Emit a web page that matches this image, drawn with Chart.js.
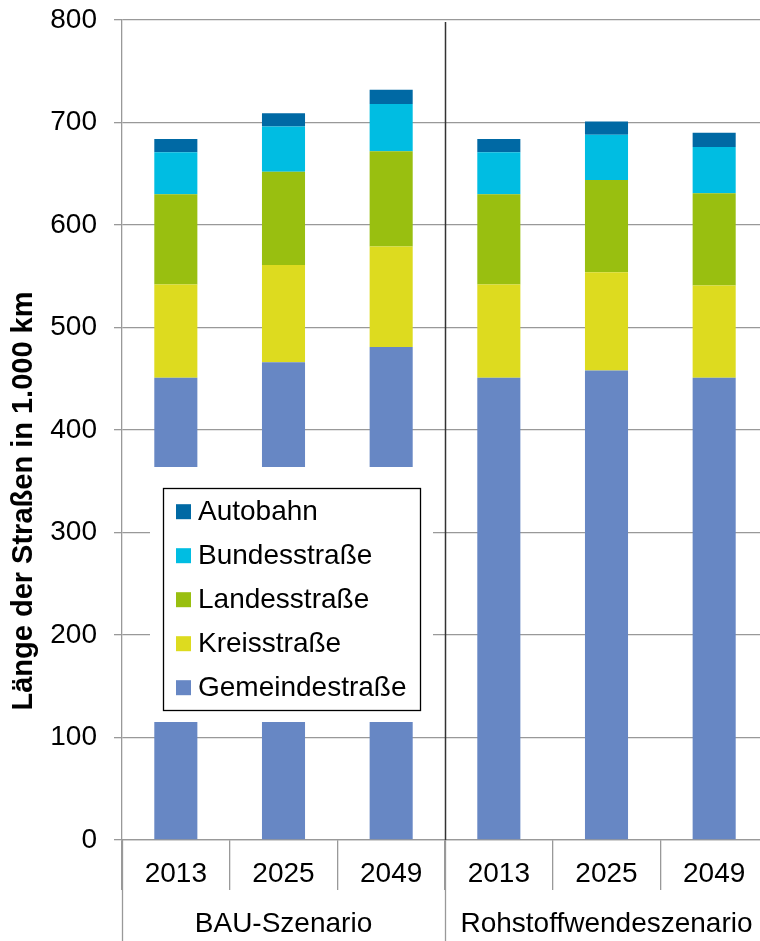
<!DOCTYPE html>
<html lang="de">
<head>
<meta charset="utf-8">
<title>Länge der Straßen in 1.000 km</title>
<script src="https://cdn.jsdelivr.net/npm/chart.js@4.4.1/dist/chart.umd.min.js"></script>
<style>
  html, body { margin: 0; padding: 0; overflow: hidden; background: #fff; }
  canvas { display: block; }
</style>
</head>
<body>
<canvas id="roads" width="768" height="941"></canvas>
<script>
// Road lengths in 1,000 km per scenario and year
const years = ['2013', '2025', '2049', '2013', '2025', '2049'];
const scenarios = ['BAU-Szenario', 'Rohstoffwendeszenario'];
const yearsPerScenario = 3;

const gemeindestrasse = [451, 466, 481, 451, 458, 451];
const kreisstrasse    = [91, 95, 98, 91, 96, 90];
const landesstrasse   = [88, 91, 93, 88, 90, 90];
const bundesstrasse   = [41, 44, 46, 41, 44, 45];
const autobahn        = [13, 13, 14, 13, 13, 14];

const yMin = 0;
const yMax = 800;
const yStep = 100;
const yTitle = 'Länge der Straßen in 1.000 km';

const FONT = "'Liberation Sans', Arial, sans-serif";
const GRID = '#999999';

Chart.defaults.font.family = FONT;
Chart.defaults.color = '#000';

const series = [
  { label: 'Gemeindestraße', data: gemeindestrasse, color: '#6787c4' },
  { label: 'Kreisstraße',    data: kreisstrasse,    color: '#dddb1f' },
  { label: 'Landesstraße',   data: landesstrasse,   color: '#99bf10' },
  { label: 'Bundesstraße',   data: bundesstrasse,   color: '#00bde2' },
  { label: 'Autobahn',       data: autobahn,        color: '#0069a4' }
];

// Legend sits inside the plot on a white panel (offsets from chart area)
const legendLayout = {
  panel:  { dx: 28, dy: 447, w: 283, h: 255 },
  frame:  { dx: 41, dy: 468, w: 257, h: 222 },
  swatch: 15,
  firstRow: 23.7,
  rowStep: 44,
  swatchX: 13,
  textX: 35
};

const legendPlugin = {
  id: 'insetLegend',
  afterDatasetsDraw(chart) {
    const { ctx, chartArea } = chart;
    const L = legendLayout;
    ctx.save();
    ctx.fillStyle = '#fff';
    ctx.fillRect(chartArea.left + L.panel.dx, chartArea.top + L.panel.dy, L.panel.w, L.panel.h);

    const fx = chartArea.left + L.frame.dx;
    const fy = chartArea.top + L.frame.dy;
    ctx.strokeStyle = '#000';
    ctx.lineWidth = 1.3;
    ctx.strokeRect(fx + 0.5, fy + 0.5, L.frame.w, L.frame.h);

    ctx.font = '28px ' + FONT;
    ctx.textBaseline = 'middle';
    ctx.textAlign = 'left';
    const items = series.slice().reverse();
    items.forEach((s, i) => {
      const cy = fy + L.firstRow + i * L.rowStep;
      ctx.fillStyle = s.color;
      ctx.fillRect(fx + L.swatchX, cy - L.swatch / 2, L.swatch, L.swatch);
      ctx.fillStyle = '#000';
      ctx.fillText(s.label, fx + L.textX, cy + 1);
    });
    ctx.restore();
  }
};

// Scenario separator, long category dividers, group labels and axis title
const scenarioPlugin = {
  id: 'scenarioAxis',
  afterDatasetsDraw(chart) {
    const { ctx, chartArea } = chart;
    const xs = chart.scales.x;
    const step = xs.width / years.length;
    const bottom = chart.height;
    ctx.save();

    // dark divider between the two scenarios
    for (let g = 1; g < scenarios.length; g++) {
      const x = Math.round(xs.left + g * yearsPerScenario * step) + 0.5;
      ctx.strokeStyle = '#333';
      ctx.lineWidth = 1.5;
      ctx.beginPath();
      ctx.moveTo(x, chartArea.top + 2);
      ctx.lineTo(x, chartArea.bottom);
      ctx.stroke();
    }

    // group dividers below the axis
    ctx.strokeStyle = GRID;
    ctx.lineWidth = 1.3;
    for (let g = 0; g <= scenarios.length; g++) {
      const x = Math.round(xs.left + g * yearsPerScenario * step) + 0.5;
      ctx.beginPath();
      ctx.moveTo(x, chartArea.bottom);
      ctx.lineTo(x, bottom);
      ctx.stroke();
    }

    // scenario labels
    ctx.fillStyle = '#000';
    ctx.font = '28px ' + FONT;
    ctx.textAlign = 'center';
    ctx.textBaseline = 'middle';
    scenarios.forEach((name, g) => {
      const cx = xs.left + (g + 0.5) * yearsPerScenario * step;
      ctx.fillText(name, cx, chartArea.bottom + 84);
    });

    // rotated value-axis title
    ctx.font = 'bold 29px ' + FONT;
    ctx.translate(24, chartArea.top + 481);
    ctx.rotate(-Math.PI / 2);
    ctx.fillText(yTitle, 0, 0);
    ctx.restore();
  }
};

new Chart(document.getElementById('roads'), {
  type: 'bar',
  data: {
    labels: years,
    datasets: series.map(s => ({
      label: s.label,
      data: s.data,
      backgroundColor: s.color,
      borderWidth: 0,
      categoryPercentage: 1,
      barPercentage: 0.4
    }))
  },
  options: {
    responsive: false,
    animation: false,
    events: [],
    layout: { padding: { top: 20, right: 0, bottom: 0, left: 0 } },
    plugins: {
      legend: { display: false },
      tooltip: { enabled: false }
    },
    scales: {
      x: {
        stacked: true,
        offset: true,
        grid: {
          offset: true,
          drawOnChartArea: false,
          drawTicks: true,
          tickLength: 50,
          color: GRID,
          lineWidth: 1.3
        },
        border: { display: true, color: GRID, width: 1.3 },
        ticks: {
          autoSkip: false,
          maxRotation: 0,
          padding: -33,
          font: { size: 28 },
          color: '#000'
        },
        afterFit: scale => { scale.height = 101; }
      },
      y: {
        stacked: true,
        min: yMin,
        max: yMax,
        ticks: {
          stepSize: yStep,
          padding: 17,
          font: { size: 28 },
          color: '#000'
        },
        grid: {
          color: GRID,
          lineWidth: 1.3,
          tickLength: 8
        },
        border: { display: true, color: GRID, width: 1.3 },
        afterFit: scale => {
          scale.width = 122;
          scale.paddingTop = 0;
          scale.paddingBottom = 0;
        }
      }
    }
  },
  plugins: [legendPlugin, scenarioPlugin]
});
</script>
</body>
</html>
